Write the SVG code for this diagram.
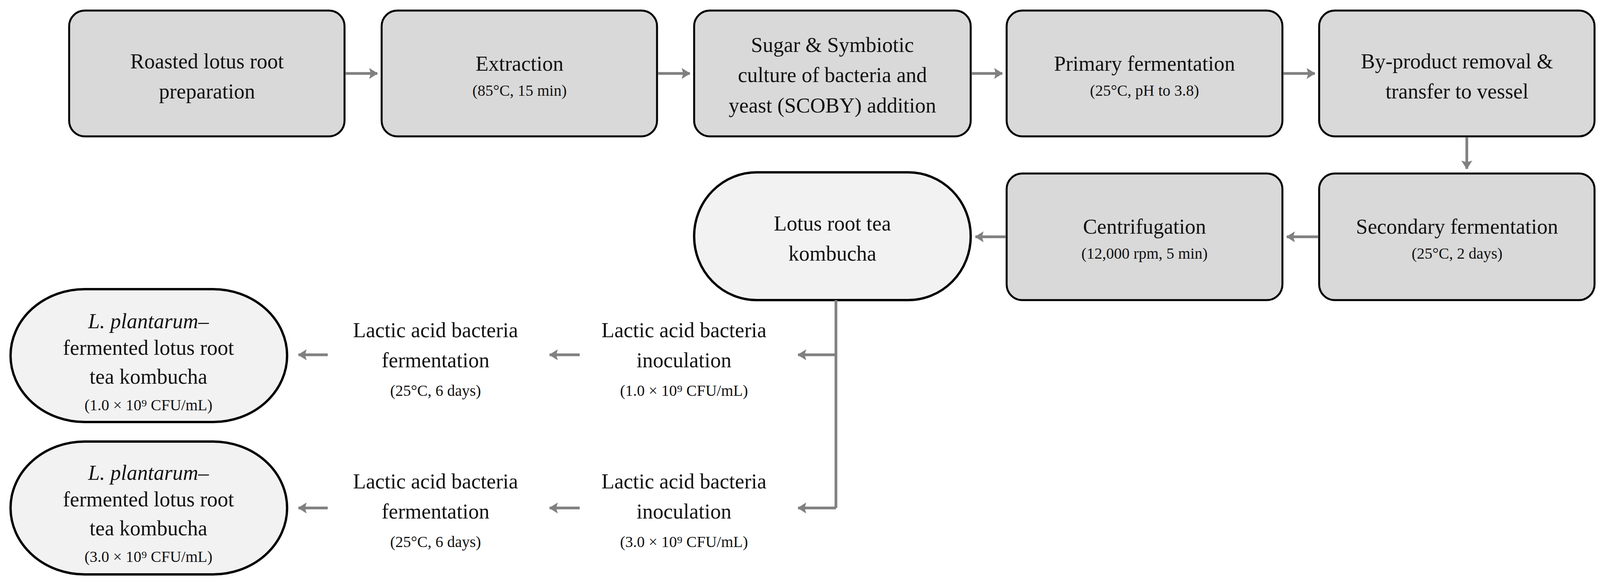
<svg xmlns="http://www.w3.org/2000/svg" width="4112" height="1492" viewBox="0 0 4112 1492">
<style>
.b{fill:#d9d9d9;stroke:#000;stroke-width:5}
.s{fill:#f2f2f2;stroke:#000;stroke-width:6}
text{font-family:"Liberation Serif","Times New Roman",serif;text-anchor:middle;fill:#111}
.m{font-size:54px}
.t{font-size:40px}
.c{stroke:#808080;stroke-width:7;fill:none}
</style>
<defs><marker id="a" markerWidth="4" markerHeight="4" refX="3" refY="2" orient="auto" markerUnits="strokeWidth"><path d="M0,0L3.2,2L0,4L0.6,2z" fill="#808080"/></marker></defs>
<rect width="4112" height="1492" fill="#fff"/>
<g id="n1"><rect class="b" x="177" y="27" width="705" height="322" rx="40"/><text class="m" x="530" y="175">Roasted lotus root</text><text class="m" x="530" y="252">preparation</text></g>
<g id="n2"><rect class="b" x="977" y="27" width="705" height="322" rx="40"/><text class="m" x="1330" y="181">Extraction</text><text class="t" x="1330" y="245">(85°C, 15 min)</text></g>
<g id="n3"><rect class="b" x="1777" y="27" width="708" height="322" rx="40"/><text class="m" x="2131" y="133">Sugar &amp; Symbiotic</text><text class="m" x="2131" y="210">culture of bacteria and</text><text class="m" x="2131" y="288">yeast (SCOBY) addition</text></g>
<g id="n4"><rect class="b" x="2577" y="27" width="706" height="322" rx="40"/><text class="m" x="2930" y="181">Primary fermentation</text><text class="t" x="2930" y="245">(25°C, pH to 3.8)</text></g>
<g id="n5"><rect class="b" x="3377" y="27" width="705" height="322" rx="40"/><text class="m" x="3730" y="175">By-product removal &amp;</text><text class="m" x="3730" y="252">transfer to vessel</text></g>
<g id="n6"><rect class="b" x="3377" y="444" width="705" height="324" rx="40"/><text class="m" x="3730" y="598">Secondary fermentation</text><text class="t" x="3730" y="662">(25°C, 2 days)</text></g>
<g id="n7"><rect class="b" x="2577" y="444" width="706" height="324" rx="40"/><text class="m" x="2930" y="598">Centrifugation</text><text class="t" x="2930" y="662">(12,000 rpm, 5 min)</text></g>
<g id="n8"><rect class="s" x="1777" y="441" width="708" height="327" rx="160" ry="163"/><text class="m" x="2131" y="590">Lotus root tea</text><text class="m" x="2131" y="667">kombucha</text></g>
<g id="n9"><text class="m" x="1751" y="863">Lactic acid bacteria</text><text class="m" x="1751" y="940">inoculation</text><text class="t" x="1751" y="1013">(1.0 × 10⁹ CFU/mL)</text></g>
<g id="n10"><text class="m" x="1115" y="863">Lactic acid bacteria</text><text class="m" x="1115" y="940">fermentation</text><text class="t" x="1115" y="1013">(25°C, 6 days)</text></g>
<g id="n11"><rect class="s" x="27" y="740" width="708" height="340" rx="190" ry="170"/><text class="m" x="380" y="840" font-style="italic">L. plantarum–</text><text class="m" x="380" y="908">fermented lotus root</text><text class="m" x="380" y="982">tea kombucha</text><text class="t" x="380" y="1050">(1.0 × 10⁹ CFU/mL)</text></g>
<g id="n12"><text class="m" x="1751" y="1250">Lactic acid bacteria</text><text class="m" x="1751" y="1327">inoculation</text><text class="t" x="1751" y="1400">(3.0 × 10⁹ CFU/mL)</text></g>
<g id="n13"><text class="m" x="1115" y="1250">Lactic acid bacteria</text><text class="m" x="1115" y="1327">fermentation</text><text class="t" x="1115" y="1400">(25°C, 6 days)</text></g>
<g id="n14"><rect class="s" x="27" y="1130" width="708" height="340" rx="190" ry="170"/><text class="m" x="380" y="1228" font-style="italic">L. plantarum–</text><text class="m" x="380" y="1296">fermented lotus root</text><text class="m" x="380" y="1370">tea kombucha</text><text class="t" x="380" y="1438">(3.0 × 10⁹ CFU/mL)</text></g>
<g id="connectors">
<path class="c" d="M884,188H966" marker-end="url(#a)"/>
<path class="c" d="M1684,188H1766" marker-end="url(#a)"/>
<path class="c" d="M2487,188H2566" marker-end="url(#a)"/>
<path class="c" d="M3285,188H3366" marker-end="url(#a)"/>
<path class="c" d="M3755,351V432" marker-end="url(#a)"/>
<path class="c" d="M3375,606H3294" marker-end="url(#a)"/>
<path class="c" d="M2575,606H2497" marker-end="url(#a)"/>
<path class="c" d="M2140,768V1300" />
<path class="c" d="M2140,908H2043" marker-end="url(#a)"/>
<path class="c" d="M2140,1300H2043" marker-end="url(#a)"/>
<path class="c" d="M1484,908H1407" marker-end="url(#a)"/>
<path class="c" d="M1484,1300H1407" marker-end="url(#a)"/>
<path class="c" d="M839,908H764" marker-end="url(#a)"/>
<path class="c" d="M839,1300H764" marker-end="url(#a)"/>
</g>
</svg>
